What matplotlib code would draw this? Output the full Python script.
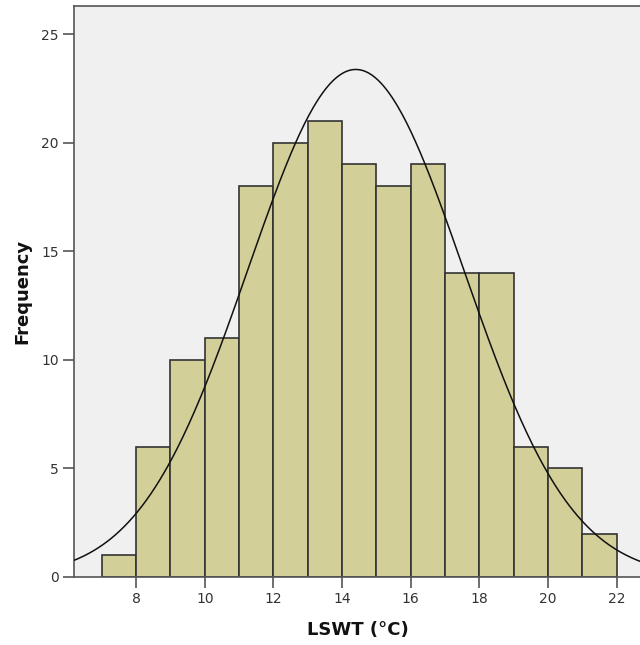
import matplotlib
matplotlib.use("Agg")
import matplotlib.pyplot as plt
import numpy as np

# Histogram of LSWT, bins of 1 °C from 7 to 22
bin_edges = [7, 8, 9, 10, 11, 12, 13, 14, 15, 16, 17, 18, 19, 20, 21, 22]
counts = [1, 6, 10, 11, 18, 20, 21, 19, 18, 19, 14, 14, 6, 5, 2]

# fitted normal curve parameters
curve_mean = 14.4
curve_sd = 3.14
n_total = sum(counts)

x_ticks = [8, 10, 12, 14, 16, 18, 20, 22]
y_ticks = [0, 5, 10, 15, 20, 25]

fig = plt.figure(figsize=(6.4, 6.45), dpi=100)
ax = fig.add_axes([74 / 640, 68 / 645, 1 - 74 / 640, 571 / 645])
ax.set_facecolor("#f0f0f0")

widths = np.diff(bin_edges)
ax.bar(bin_edges[:-1], counts, width=widths, align="edge",
       color="#d3cf98", edgecolor="#333333", linewidth=1.2, zorder=2)

xs = np.linspace(6.0, 23.0, 400)
ys = n_total * 1.0 / (curve_sd * np.sqrt(2 * np.pi)) * np.exp(-0.5 * ((xs - curve_mean) / curve_sd) ** 2)
ax.plot(xs, ys, color="#111111", lw=1.1, zorder=3)

ax.set_xlim(6.19, 22.68)
ax.set_ylim(0, 26.3)
ax.set_xticks(x_ticks)
ax.set_yticks(y_ticks)
ax.tick_params(direction="out", length=8, width=1.2, color="#555555",
               labelsize=10, labelcolor="#333333", pad=3)
for side in ("left", "bottom", "top"):
    ax.spines[side].set_color("#555555")
    ax.spines[side].set_linewidth(1.2)
ax.spines["right"].set_visible(False)

fig.text(22 / 640, 1 - 291 / 645, "Frequency", rotation=90, ha="center", va="center",
         fontsize=13, fontweight="bold", color="#111111")
fig.text(358 / 640, 1 - 630 / 645, "LSWT (°C)", ha="center", va="center",
         fontsize=13, fontweight="bold", color="#111111")

fig.savefig("out.png", dpi=100)
